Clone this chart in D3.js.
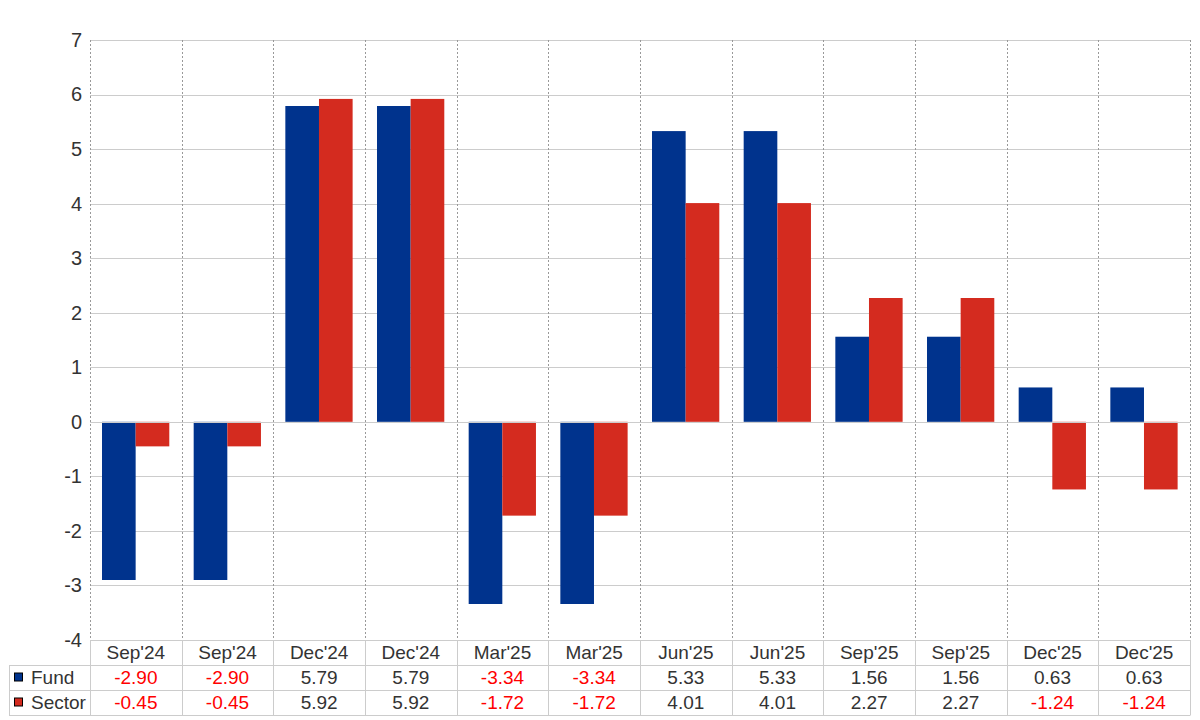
<!DOCTYPE html>
<html>
<head>
<meta charset="utf-8">
<script src="https://cdn.jsdelivr.net/npm/d3@7"></script>
<style>
  html, body { margin: 0; padding: 0; background: #fff; }
  svg { display: block; font-family: "Liberation Sans", Arial, sans-serif; }
</style>
</head>
<body>
<svg id="chart" width="1200" height="720"></svg>
<script>
const categories = ["Sep'24", "Sep'24", "Dec'24", "Dec'24", "Mar'25", "Mar'25", "Jun'25", "Jun'25", "Sep'25", "Sep'25", "Dec'25", "Dec'25"];
const fundValues = [-2.90, -2.90, 5.79, 5.79, -3.34, -3.34, 5.33, 5.33, 1.56, 1.56, 0.63, 0.63];
const sectorValues = [-0.45, -0.45, 5.92, 5.92, -1.72, -1.72, 4.01, 4.01, 2.27, 2.27, -1.24, -1.24];
const seriesNames = ["Fund", "Sector"];
const seriesColors = ["#00338D", "#D42B1F"];
const yTicks = [-4, -3, -2, -1, 0, 1, 2, 3, 4, 5, 6, 7];

const series = [fundValues, sectorValues];
const svg = d3.select("#chart");
const pLeft = 90, pRight = 1190, pTop = 40, pBottom = 640;
const rowH = 25, tableLeft = 9;
const hyphen = s => s.replace("\u2212", "-");

const x = d3.scaleBand().domain(d3.range(categories.length)).range([pLeft, pRight]).padding(0);
const y = d3.scaleLinear().domain([-4, 7]).range([pBottom, pTop]);
const bw = x.bandwidth();
const inner = d3.scaleBand().domain(d3.range(series.length)).range([0.131 * bw, 0.131 * bw + 2 * 0.367 * bw]).padding(0);

// horizontal grid
svg.append("g").selectAll("line").data(yTicks).join("line")
  .attr("x1", pLeft).attr("x2", pRight)
  .attr("y1", d => Math.round(y(d)) + 0.5).attr("y2", d => Math.round(y(d)) + 0.5)
  .attr("stroke", "#cccccc").attr("stroke-width", 1);

// vertical dotted grid
const bounds = d3.range(categories.length).map(i => x(i)).concat([pRight]);
svg.append("g").selectAll("line").data(bounds).join("line")
  .attr("x1", d => Math.round(d) + 0.5).attr("x2", d => Math.round(d) + 0.5)
  .attr("y1", pTop).attr("y2", pBottom)
  .attr("stroke", "#999999").attr("stroke-width", 1).attr("stroke-dasharray", "2,2");

// bars
series.forEach((vals, s) => {
  svg.append("g").selectAll("rect").data(vals).join("rect")
    .attr("x", (d, i) => x(i) + inner(s))
    .attr("width", inner.bandwidth())
    .attr("y", d => y(Math.max(0, d)))
    .attr("height", d => Math.abs(y(d) - y(0)))
    .attr("fill", seriesColors[s]);
});

// zero line on top
svg.append("line").attr("x1", pLeft).attr("x2", pRight)
  .attr("y1", Math.round(y(0)) + 0.5).attr("y2", Math.round(y(0)) + 0.5)
  .attr("stroke", "#cccccc");

// y axis
const yAxis = svg.append("g").attr("transform", `translate(${pLeft - 8},0)`)
  .call(d3.axisLeft(y).tickValues(yTicks).tickSize(0).tickPadding(0).tickFormat(d => hyphen(d3.format("d")(d))));
yAxis.select(".domain").remove();
yAxis.selectAll("text").attr("font-size", 20).attr("fill", "#333").attr("font-family", "Liberation Sans, Arial, sans-serif");

// category axis row
const xAxis = svg.append("g").attr("transform", `translate(0,${pBottom})`)
  .call(d3.axisBottom(x).tickSize(0).tickPadding(0).tickFormat(i => categories[i]));
xAxis.select(".domain").remove();
xAxis.selectAll("text").attr("font-size", 19).attr("fill", "#333")
  .attr("font-family", "Liberation Sans, Arial, sans-serif")
  .attr("dy", null).attr("y", rowH / 2).attr("dominant-baseline", "central");

// table grid
const tg = svg.append("g").attr("stroke", "#cccccc").attr("stroke-width", 1).attr("fill", "none");
const tBottom = pBottom + 3 * rowH;
[pBottom + rowH, pBottom + 2 * rowH, tBottom].forEach(yy => {
  tg.append("line").attr("x1", tableLeft).attr("x2", pRight).attr("y1", yy + 0.5).attr("y2", yy + 0.5);
});
tg.append("line").attr("x1", tableLeft + 0.5).attr("x2", tableLeft + 0.5).attr("y1", pBottom + rowH).attr("y2", tBottom + 0.5);
bounds.forEach(b => {
  tg.append("line").attr("x1", Math.round(b) + 0.5).attr("x2", Math.round(b) + 0.5).attr("y1", pBottom).attr("y2", tBottom + 0.5);
});

// row labels with swatches
seriesNames.forEach((name, s) => {
  const cy = pBottom + rowH * (s + 1) + rowH / 2;
  svg.append("rect").attr("x", 14.5).attr("y", cy - 4.5).attr("width", 8).attr("height", 8)
    .attr("fill", seriesColors[s]).attr("stroke", "#000").attr("stroke-width", 1);
  svg.append("text").attr("x", 31).attr("y", cy).attr("dominant-baseline", "central")
    .attr("font-size", 19).attr("fill", "#333").text(name);
  svg.append("g").selectAll("text").data(series[s]).join("text")
    .attr("x", (d, i) => x(i) + bw / 2).attr("y", cy)
    .attr("text-anchor", "middle").attr("dominant-baseline", "central")
    .attr("font-size", 19).attr("fill", d => d < 0 ? "#ff0000" : "#333")
    .text(d => hyphen(d3.format(".2f")(d)));
});
</script>
</body>
</html>
